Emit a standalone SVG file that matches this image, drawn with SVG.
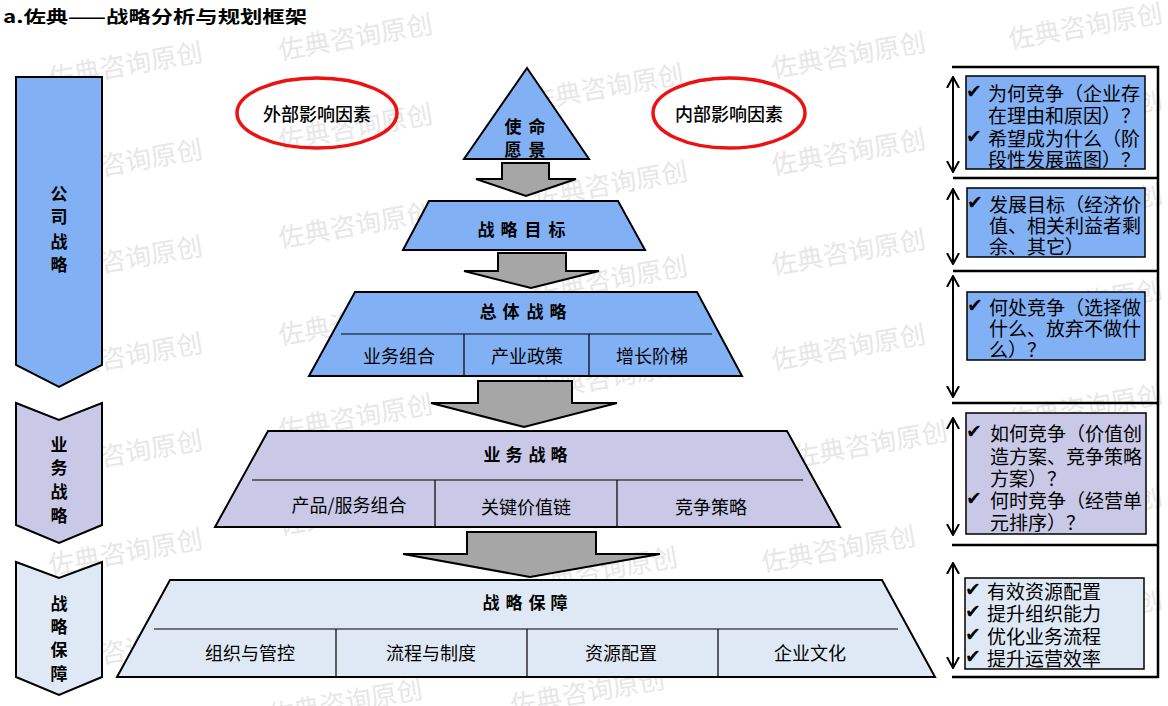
<svg xmlns="http://www.w3.org/2000/svg" width="1168" height="706" viewBox="0 0 1168 706">
<defs>
<style>
.wm{font-family:"Noto Sans CJK SC","Noto Sans",sans-serif;font-size:26px;fill:#e7e7e7;text-anchor:middle;dominant-baseline:central}
.t{font-family:"Noto Sans CJK SC","Noto Sans",sans-serif;fill:#000;dominant-baseline:central}
.c{text-anchor:middle}
.b{font-weight:bold;font-size:17px}
.lab{font-size:18px}
.ellt{font-size:18px;font-weight:500}
.box{font-size:19px}
.chk{font-family:"DejaVu Sans",sans-serif;font-size:19px}
.blue{fill:#82b0f4;stroke:#000;stroke-width:2}
.purple{fill:#c9c9e7;stroke:#000;stroke-width:2}
.light{fill:#dfe9f5;stroke:#000;stroke-width:2}
.bx{stroke-width:1.5}
.arr{fill:#a6a6a6;stroke:#000;stroke-width:2;stroke-linejoin:miter}
.div{stroke:#000;stroke-width:1.2;fill:none}
.ell{fill:none;stroke:#ee1111;stroke-width:3.5}
.pl{stroke:#000;stroke-width:2.5;fill:none}
.da{stroke:#000;stroke-width:2;fill:none;marker-start:url(#v);marker-end:url(#v)}
</style>
<marker id="v" viewBox="0 0 12 14" refX="11" refY="7" markerWidth="12" markerHeight="14" markerUnits="userSpaceOnUse" orient="auto-start-reverse">
<path d="M0,1 L11,7 L0,13" fill="none" stroke="#000" stroke-width="2"/>
</marker>
</defs>
<rect width="1168" height="706" fill="#fff"/>

<g id="watermarks">
<g transform="rotate(-10 125 63)"><text class="wm" x="125" y="63">佐典咨询原创</text></g>
<g transform="rotate(-10 125 160)"><text class="wm" x="125" y="160">佐典咨询原创</text></g>
<g transform="rotate(-10 125 257)"><text class="wm" x="125" y="257">佐典咨询原创</text></g>
<g transform="rotate(-10 125 354)"><text class="wm" x="125" y="354">佐典咨询原创</text></g>
<g transform="rotate(-10 125 451)"><text class="wm" x="125" y="451">佐典咨询原创</text></g>
<g transform="rotate(-10 125 550)"><text class="wm" x="125" y="550">佐典咨询原创</text></g>
<g transform="rotate(-10 125 648)"><text class="wm" x="125" y="648">佐典咨询原创</text></g>
<g transform="rotate(-10 355 35)"><text class="wm" x="355" y="35">佐典咨询原创</text></g>
<g transform="rotate(-10 355 125)"><text class="wm" x="355" y="125">佐典咨询原创</text></g>
<g transform="rotate(-10 355 223)"><text class="wm" x="355" y="223">佐典咨询原创</text></g>
<g transform="rotate(-10 355 320)"><text class="wm" x="355" y="320">佐典咨询原创</text></g>
<g transform="rotate(-10 355 415)"><text class="wm" x="355" y="415">佐典咨询原创</text></g>
<g transform="rotate(-10 355 510)"><text class="wm" x="355" y="510">佐典咨询原创</text></g>
<g transform="rotate(-10 355 605)"><text class="wm" x="355" y="605">佐典咨询原创</text></g>
<g transform="rotate(-10 345 700)"><text class="wm" x="345" y="700">佐典咨询原创</text></g>
<g transform="rotate(-10 606 85)"><text class="wm" x="606" y="85">佐典咨询原创</text></g>
<g transform="rotate(-10 610 182)"><text class="wm" x="610" y="182">佐典咨询原创</text></g>
<g transform="rotate(-10 610 277)"><text class="wm" x="610" y="277">佐典咨询原创</text></g>
<g transform="rotate(-10 610 375)"><text class="wm" x="610" y="375">佐典咨询原创</text></g>
<g transform="rotate(-10 610 470)"><text class="wm" x="610" y="470">佐典咨询原创</text></g>
<g transform="rotate(-10 600 568)"><text class="wm" x="600" y="568">佐典咨询原创</text></g>
<g transform="rotate(-10 587 690)"><text class="wm" x="587" y="690">佐典咨询原创</text></g>
<g transform="rotate(-10 848 53)"><text class="wm" x="848" y="53">佐典咨询原创</text></g>
<g transform="rotate(-10 848 150)"><text class="wm" x="848" y="150">佐典咨询原创</text></g>
<g transform="rotate(-10 848 250)"><text class="wm" x="848" y="250">佐典咨询原创</text></g>
<g transform="rotate(-10 848 345)"><text class="wm" x="848" y="345">佐典咨询原创</text></g>
<g transform="rotate(-10 870 442)"><text class="wm" x="870" y="442">佐典咨询原创</text></g>
<g transform="rotate(-10 838 547)"><text class="wm" x="838" y="547">佐典咨询原创</text></g>
<g transform="rotate(-10 1085 24)"><text class="wm" x="1085" y="24">佐典咨询原创</text></g>
<g transform="rotate(-10 1085 110)"><text class="wm" x="1085" y="110">佐典咨询原创</text></g>
<g transform="rotate(-10 1085 205)"><text class="wm" x="1085" y="205">佐典咨询原创</text></g>
<g transform="rotate(-10 1085 300)"><text class="wm" x="1085" y="300">佐典咨询原创</text></g>
<g transform="rotate(-10 1085 405)"><text class="wm" x="1085" y="405">佐典咨询原创</text></g>
<g transform="rotate(-10 1085 507)"><text class="wm" x="1085" y="507">佐典咨询原创</text></g>
<g transform="rotate(-10 1085 610)"><text class="wm" x="1085" y="610">佐典咨询原创</text></g>
</g>

<g id="title">
<text class="t" x="3" y="15" font-weight="bold" font-size="17" textLength="304" lengthAdjust="spacingAndGlyphs">a.佐典——战略分析与规划框架</text>
</g>

<g id="left-corporate">
<path class="blue" d="M16,77 L102,77 L102,365 L59,387 L16,365 Z"/>
<text class="t c b" x="59" y="192">公</text>
<text class="t c b" x="59" y="215">司</text>
<text class="t c b" x="59" y="240">战</text>
<text class="t c b" x="59" y="263">略</text>
</g>
<g id="left-business">
<path class="purple" d="M16,403 L59,420 L102,403 L102,525 L59,543 L16,525 Z"/>
<text class="t c b" x="59" y="443">业</text>
<text class="t c b" x="59" y="466">务</text>
<text class="t c b" x="59" y="490">战</text>
<text class="t c b" x="59" y="514">略</text>
</g>
<g id="left-support">
<path class="light" d="M16,562 L59,578 L102,562 L102,677 L59,695 L16,677 Z"/>
<text class="t c b" x="59" y="602">战</text>
<text class="t c b" x="59" y="625">略</text>
<text class="t c b" x="59" y="648">保</text>
<text class="t c b" x="59" y="672">障</text>
</g>

<g id="external-factors">
<ellipse class="ell" cx="317" cy="113" rx="80" ry="35"/>
<text class="t c ellt" x="317" y="113">外部影响因素</text>
</g>
<g id="internal-factors">
<ellipse class="ell" cx="729" cy="113" rx="76" ry="35"/>
<text class="t c ellt" x="729" y="113">内部影响因素</text>
</g>

<g id="connectors">
<path class="arr" d="M502,163 L549,163 L549,179 L576,179 L526,196 L476,179 L502,179 Z"/>
<path class="arr" d="M498,253 L566,253 L566,271 L599,271 L531,288 L464,271 L498,271 Z"/>
<path class="arr" d="M478,381 L572,381 L572,403 L617,403 L524,427 L431,403 L478,403 Z"/>
<path class="arr" d="M467,532 L596,532 L596,554 L660,554 L530,577 L403,554 L467,554 Z"/>
<path class="pl" d="M952,67 L1158,67 L1158,678"/>
<path class="pl" d="M953,178 L1158,178 M953,271 L1158,271 M952,403 L1158,403 M952,545 L1158,545 M952,677 L1158,677"/>
<line class="da" x1="953" y1="77" x2="953" y2="172"/>
<line class="da" x1="953" y1="189" x2="953" y2="264"/>
<line class="da" x1="953" y1="276" x2="953" y2="397"/>
<line class="da" x1="953" y1="418" x2="953" y2="535"/>
<line class="da" x1="953" y1="563" x2="953" y2="668"/>
</g>

<g id="mission-vision">
<path class="blue" d="M527,68 L589,159 L464,159 Z"/>
<text class="t c b" x="513 537" y="125">使命</text>
<text class="t c b" x="513 537" y="148">愿景</text>
</g>

<g id="strategic-goals">
<path class="blue" d="M429,201 L618,201 L645,250 L403,250 Z"/>
<text class="t c b" x="486 509 533 557" y="228">战略目标</text>
</g>

<g id="overall-strategy">
<path class="blue" d="M355,292 L697,292 L742,376 L309,376 Z"/>
<text class="t c b" x="488 511 535 558" y="310">总体战略</text>
<path class="div" d="M341,334 L712,334 M464,334 L464,376 M589,334 L589,376"/>
<text class="t c lab" x="399" y="355">业务组合</text>
<text class="t c lab" x="527" y="355">产业政策</text>
<text class="t c lab" x="652" y="355">增长阶梯</text>
</g>

<g id="business-strategy">
<path class="purple" d="M268,431 L787,431 L840,527 L215,527 Z"/>
<text class="t c b" x="492 514 537 559" y="453">业务战略</text>
<path class="div" d="M252,480 L803,480 M435,480 L435,527 M617,480 L617,527"/>
<text class="t c lab" x="349" y="504">产品/服务组合</text>
<text class="t c lab" x="526" y="506">关键价值链</text>
<text class="t c lab" x="711" y="506">竞争策略</text>
</g>

<g id="strategy-support">
<path class="light" d="M170,580 L882,580 L935,677 L117,677 Z"/>
<text class="t c b" x="491 514 537 559" y="601">战略保障</text>
<path class="div" d="M154,629 L898,629 M336,629 L336,677 M527,629 L527,677 M718,629 L718,677"/>
<text class="t c lab" x="250" y="652">组织与管控</text>
<text class="t c lab" x="431" y="652">流程与制度</text>
<text class="t c lab" x="621" y="652">资源配置</text>
<text class="t c lab" x="810" y="652">企业文化</text>
</g>

<g id="note-why">
<rect class="blue bx" x="966" y="76" width="179" height="93"/>
<text class="t box"><tspan class="chk" x="966" y="91">✔</tspan><tspan x="988" y="92">为何竞争（企业存</tspan><tspan x="988" y="114">在理由和原因）？</tspan><tspan class="chk" x="966" y="136">✔</tspan><tspan x="988" y="137">希望成为什么（阶</tspan><tspan x="988" y="158">段性发展蓝图）？</tspan></text>
</g>
<g id="note-goal">
<rect class="blue bx" x="967" y="188" width="178" height="69"/>
<text class="t box"><tspan class="chk" x="967" y="202">✔</tspan><tspan x="989" y="203">发展目标（经济价</tspan><tspan x="989" y="224">值、相关利益者剩</tspan><tspan x="989" y="245">余、其它）</tspan></text>
</g>
<g id="note-where">
<rect class="blue bx" x="967" y="292" width="178" height="68"/>
<text class="t box"><tspan class="chk" x="967" y="305">✔</tspan><tspan x="989" y="306">何处竞争（选择做</tspan><tspan x="989" y="327">什么、放弃不做什</tspan><tspan x="989" y="348">么）？</tspan></text>
</g>
<g id="note-how">
<rect class="purple bx" x="966" y="413" width="180" height="121"/>
<text class="t box"><tspan class="chk" x="966" y="431">✔</tspan><tspan x="990" y="432">如何竞争（价值创</tspan><tspan x="990" y="455">造方案、竞争策略</tspan><tspan x="990" y="477">方案）？</tspan><tspan class="chk" x="966" y="498">✔</tspan><tspan x="990" y="499">何时竞争（经营单</tspan><tspan x="990" y="521">元排序）？</tspan></text>
</g>
<g id="note-support">
<rect class="light bx" x="965" y="578" width="179" height="91"/>
<text class="t box"><tspan class="chk" x="965" y="589">✔</tspan><tspan x="987" y="590">有效资源配置</tspan><tspan class="chk" x="965" y="611">✔</tspan><tspan x="987" y="612">提升组织能力</tspan><tspan class="chk" x="965" y="634">✔</tspan><tspan x="987" y="635">优化业务流程</tspan><tspan class="chk" x="965" y="656">✔</tspan><tspan x="987" y="657">提升运营效率</tspan></text>
</g>
</svg>
